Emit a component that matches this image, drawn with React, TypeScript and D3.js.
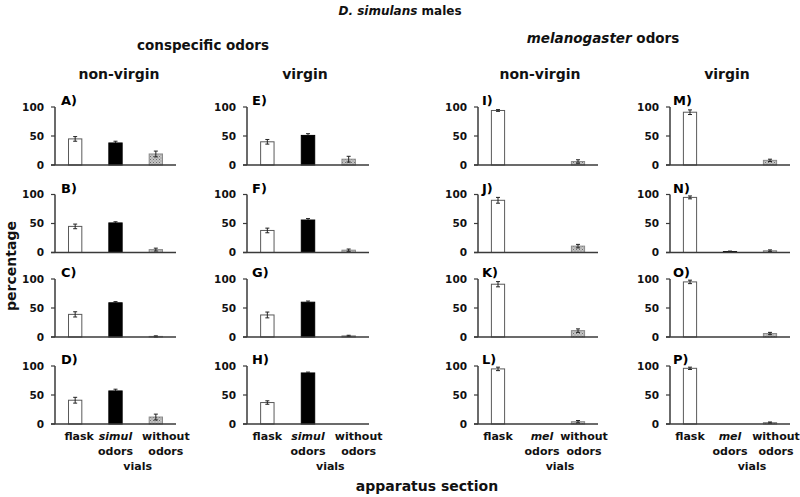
import React from "react";
import * as d3 from "d3";

// ---- data ----
const columnTitles = ["non-virgin", "virgin", "non-virgin", "virgin"];
const groupTitles = ["conspecific odors", "odors"];
const panelLetters = [
  ["A", "B", "C", "D"],
  ["E", "F", "G", "H"],
  ["I", "J", "K", "L"],
  ["M", "N", "O", "P"],
];
const catKeys = ["flask", "odor", "without"];
const catLine1Con = ["flask", "simul", "without"];
const catLine1Mel = ["flask", "mel", "without"];
const catLine2 = ["", "odors", "odors"];
const yTicks = [0, 50, 100];

// per column (A-D, E-H, I-L, M-P), per row
const flaskMeans = [
  [45, 45, 39, 41],
  [40, 38, 38, 37],
  [94, 90, 91, 95],
  [91, 95, 95, 96],
];
const flaskErr = [
  [4, 4, 4.5, 5],
  [4, 4, 5, 3],
  [1.5, 5, 4.5, 3],
  [4, 2.5, 3, 2],
];
const odorMeans = [
  [38, 51, 59, 57],
  [51, 56, 60, 88],
  [0, 0, 0, 0],
  [0, 1.5, 0, 0],
];
const odorErr = [
  [3, 2, 2, 3],
  [3, 2.5, 2, 1.5],
  [0, 0, 0, 0],
  [0, 1, 0, 0],
];
const withoutMeans = [
  [19, 5, 1, 12],
  [10, 4, 2, 0],
  [6, 11, 11, 4],
  [8, 3, 6, 2.5],
];
const withoutErr = [
  [5, 2.5, 1, 5],
  [5, 2, 1, 0],
  [3, 3, 3, 2],
  [2, 1.5, 2, 1],
];

// ---- layout ----
const W = 800;
const H = 497;
const colX0 = [55, 247, 478, 670];
const colW = [121, 122, 120, 120];
const rowTop = [107, 194.5, 279, 366];
const plotH = 58;
const FONT = "'DejaVu Sans', Verdana, sans-serif";
const AXIS = "#3a3a3a";

function Panel({ col, row }: { col: number; row: number }) {
  const x0 = colX0[col];
  const top = rowTop[row];
  const y = d3.scaleLinear().domain([0, 100]).range([top + plotH, top]);
  const x = d3.scaleBand<string>().domain(catKeys).range([x0, x0 + colW[col]]);
  const bw = x.bandwidth() * 0.33;
  const means = [flaskMeans[col][row], odorMeans[col][row], withoutMeans[col][row]];
  const errs = [flaskErr[col][row], odorErr[col][row], withoutErr[col][row]];
  const fills = ["#ffffff", "#000000", "url(#hatch)"];
  const strokes = ["#5a5a5a", "#000000", "#8a8a8a"];
  return (
    <g>
      <text x={x0 + (col === 3 ? 3 : col === 1 ? 5 : col === 2 ? 4 : 6)} y={top - 2} fontFamily={FONT} fontWeight="bold" fontSize={13}>
        {panelLetters[col][row] + ")"}
      </text>
      {catKeys.map((k, i) => {
        const v = means[i];
        if (v <= 0) return null;
        const cx = (x(k) as number) + x.bandwidth() / 2;
        return (
          <rect
            key={k}
            x={cx - bw / 2}
            y={y(v)}
            width={bw}
            height={y(0) - y(v)}
            fill={fills[i]}
            stroke={strokes[i]}
            strokeWidth={1}
          />
        );
      })}
      {catKeys.map((k, i) => {
        const v = means[i];
        const e = errs[i];
        if (v <= 0 || e <= 0) return null;
        const cx = (x(k) as number) + x.bandwidth() / 2;
        const lo = Math.max(0, v - e);
        return (
          <g key={"e" + k} stroke="#222" strokeWidth={1}>
            <line x1={cx} x2={cx} y1={y(v + e)} y2={i === 1 ? y(v) : y(lo)} />
            <line x1={cx - 2} x2={cx + 2} y1={y(v + e)} y2={y(v + e)} />
            {i !== 1 && <line x1={cx - 2} x2={cx + 2} y1={y(lo)} y2={y(lo)} />}
          </g>
        );
      })}
      {/* axes */}
      <line x1={x0} x2={x0} y1={y(100)} y2={y(0)} stroke={AXIS} strokeWidth={1.5} />
      <line x1={x0 - 4} x2={x0 + colW[col]} y1={y(0)} y2={y(0)} stroke={AXIS} strokeWidth={1.5} />
      {yTicks.map((t) => (
        <g key={t}>
          <line x1={x0 - 4} x2={x0} y1={y(t)} y2={y(t)} stroke={AXIS} strokeWidth={1.2} />
          <text
            x={x0 - 11}
            y={y(t)}
            dy="0.36em"
            textAnchor="end"
            fontFamily={FONT}
            fontWeight="bold"
            fontSize={10.5}
            fill="#111"
          >
            {t}
          </text>
        </g>
      ))}
    </g>
  );
}

function CategoryLabels({ col }: { col: number }) {
  const x0 = colX0[col];
  const x = d3.scaleBand<string>().domain(catKeys).range([x0, x0 + colW[col]]);
  const line1 = col < 2 ? catLine1Con : catLine1Mel;
  const dxs = [col === 0 ? 4 : 0, col === 2 ? 4 : 0, col < 2 ? 10 : 6];
  const yb = 440;
  return (
    <g fontFamily={FONT} fontWeight="bold" fontSize={11} fill="#111" textAnchor="middle">
      {catKeys.map((k, i) => {
        const cx = (x(k) as number) + x.bandwidth() / 2 + dxs[i];
        return (
          <g key={k}>
            <text x={cx} y={yb} fontStyle={i === 1 ? "italic" : "normal"}>
              {line1[i]}
            </text>
            {catLine2[i] && (
              <text x={cx} y={yb + 14.5}>
                {catLine2[i]}
              </text>
            )}
          </g>
        );
      })}
      <text
        x={((x("odor") as number) + (x("without") as number) + x.bandwidth()) / 2 + 2}
        y={yb + 29.5}
      >
        vials
      </text>
    </g>
  );
}

export default function App() {
  const titleX = [119, 305, 540, 727];
  return (
    <svg
      width={W}
      height={H}
      viewBox={`0 0 ${W} ${H}`}
      style={{ position: "absolute", left: 0, top: 0, background: "#fff" }}
    >
      <defs>
        <pattern id="hatch" width={3} height={3} patternUnits="userSpaceOnUse">
          <rect width={3} height={3} fill="#c4c4c4" />
          <rect width={1} height={1} fill="#6f6f6f" />
          <rect x={1.5} y={1.5} width={1} height={1} fill="#8a8a8a" />
        </pattern>
      </defs>
      <rect width={W} height={H} fill="#fff" />
      <text x={400} y={15} textAnchor="middle" fontFamily={FONT} fontWeight="bold" fontSize={12} fill="#111">
        <tspan fontStyle="italic">D. simulans</tspan> males
      </text>
      <text x={203} y={50} textAnchor="middle" fontFamily={FONT} fontWeight="bold" fontSize={13.5} fill="#111">
        {groupTitles[0]}
      </text>
      <text x={603} y={43} textAnchor="middle" fontFamily={FONT} fontWeight="bold" fontSize={13.5} fill="#111">
        <tspan fontStyle="italic">melanogaster</tspan> {groupTitles[1]}
      </text>
      {columnTitles.map((t, i) => (
        <text key={i} x={titleX[i]} y={79} textAnchor="middle" fontFamily={FONT} fontWeight="bold" fontSize={14} fill="#111">
          {t}
        </text>
      ))}
      {[0, 1, 2, 3].map((c) =>
        [0, 1, 2, 3].map((r) => <Panel key={c + "-" + r} col={c} row={r} />)
      )}
      {[0, 1, 2, 3].map((c) => (
        <CategoryLabels key={c} col={c} />
      ))}
      <text
        transform="translate(16,266) rotate(-90)"
        textAnchor="middle"
        fontFamily={FONT}
        fontWeight="bold"
        fontSize={14}
        fill="#111"
      >
        percentage
      </text>
      <text x={427} y={491} textAnchor="middle" fontFamily={FONT} fontWeight="bold" fontSize={14} fill="#111">
        apparatus section
      </text>
    </svg>
  );
}
